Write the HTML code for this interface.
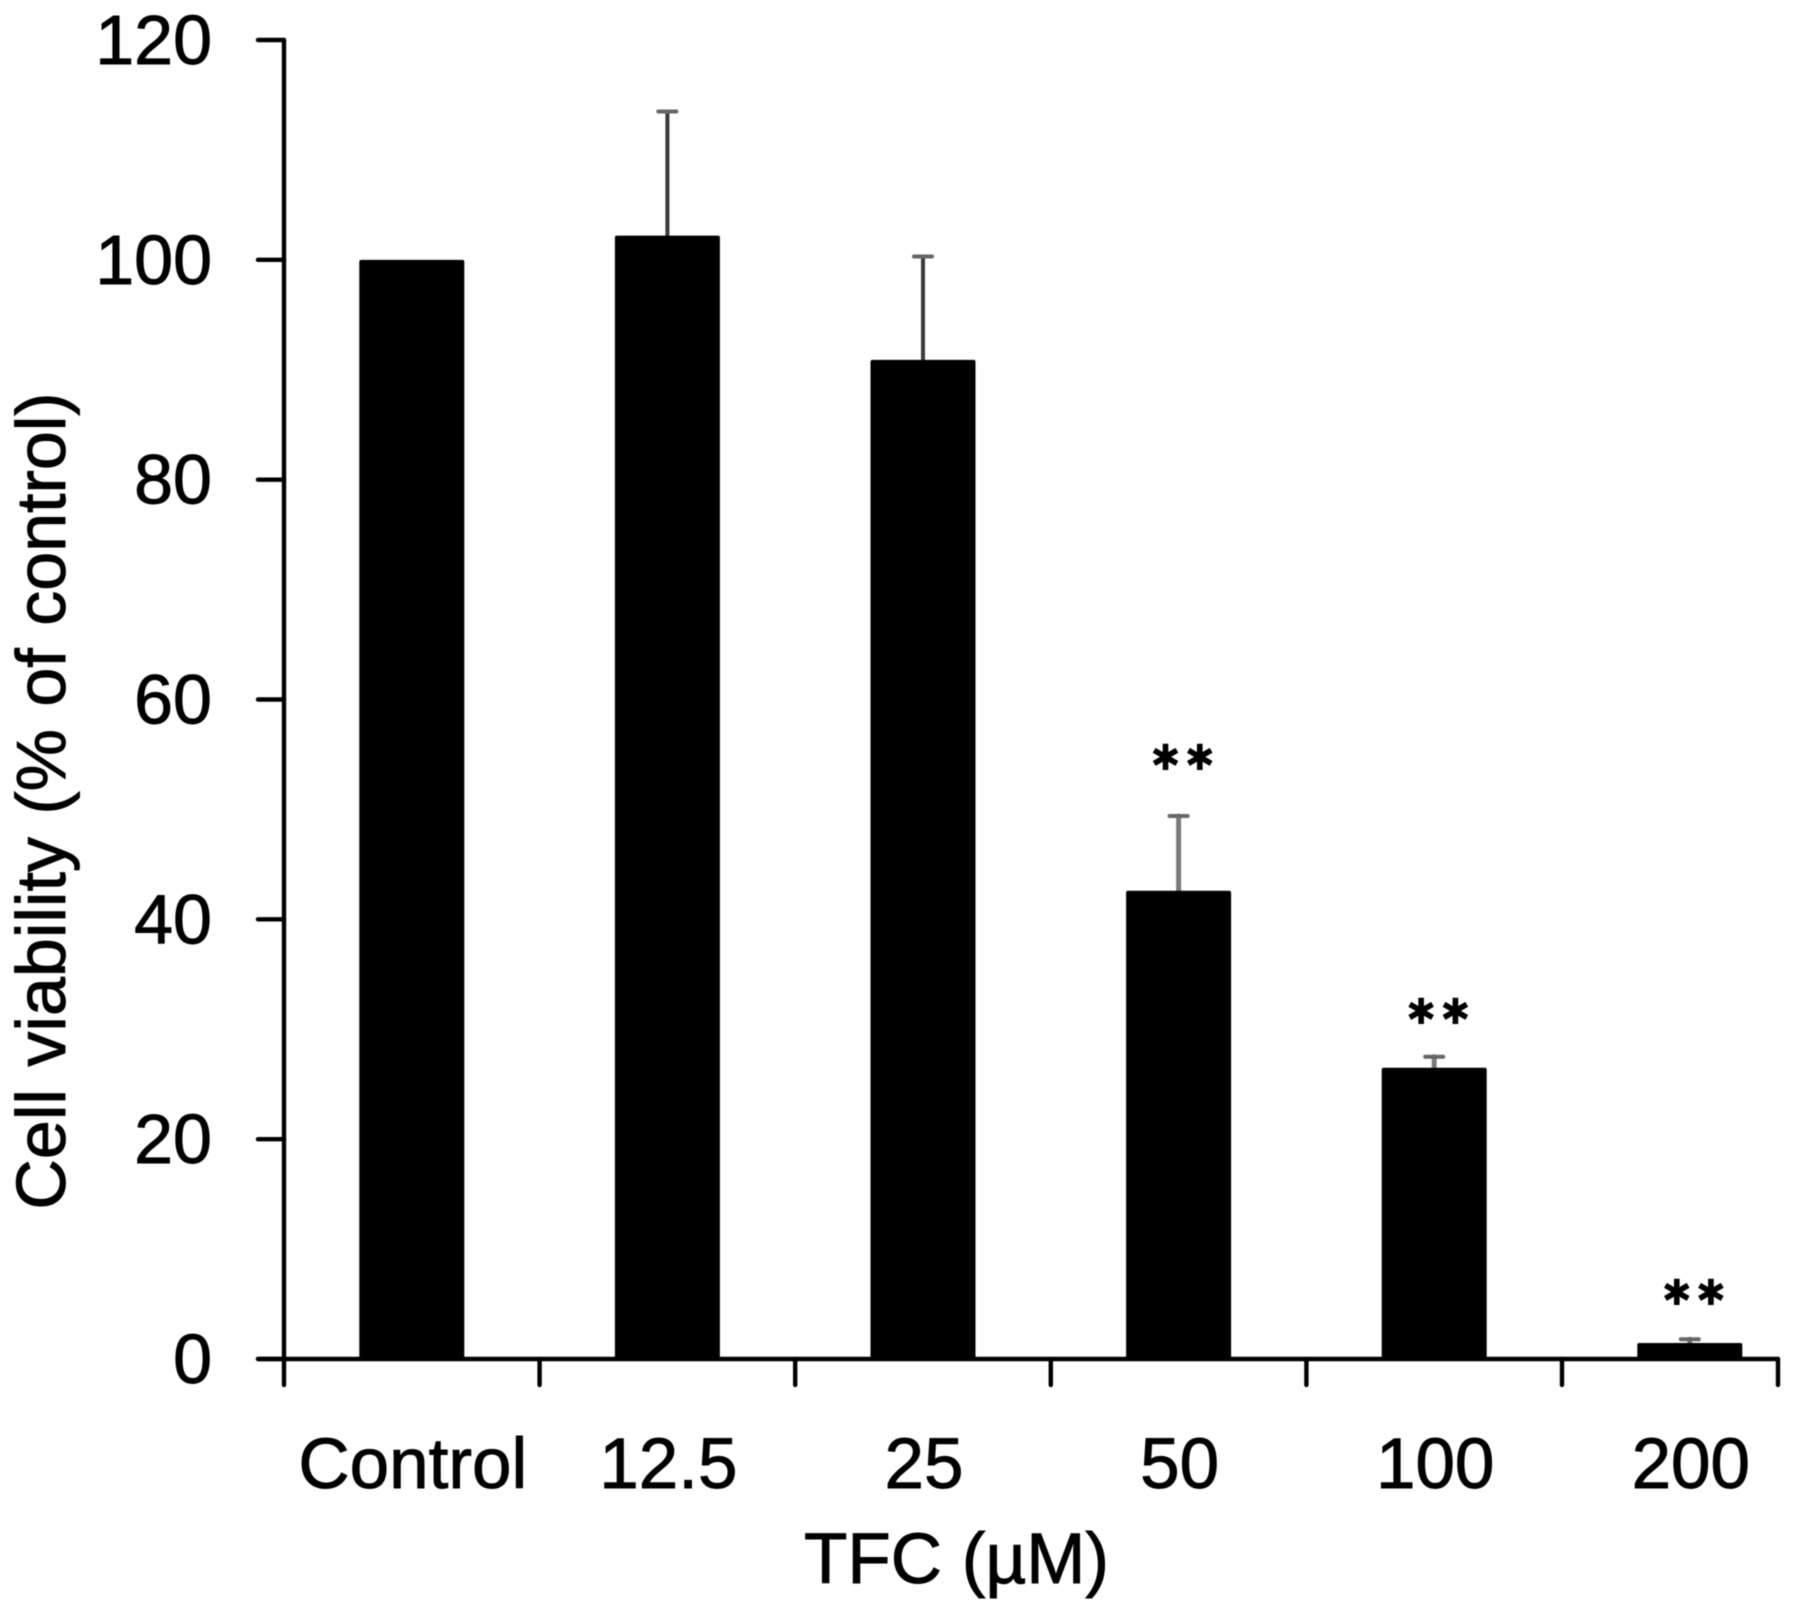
<!DOCTYPE html>
<html lang="en">
<head>
<meta charset="utf-8">
<title>Cell viability vs TFC</title>
<style>
html,body{margin:0;padding:0;background:#fff;}
svg{display:block;filter:blur(0.5px);}
text{font-family:"Liberation Sans",Arial,sans-serif;fill:#000;stroke:#000;stroke-width:0.9px;}
</style>
</head>
<body>
<svg id="chart" xmlns="http://www.w3.org/2000/svg" width="1795" height="1611" viewBox="0 0 1795 1611">
<rect width="1795" height="1611" fill="#fff"/>
<text transform="translate(65,801) rotate(-90)" text-anchor="middle" font-size="70" word-spacing="3">Cell viability (% of control)</text>
<text x="956.5" y="1583" text-anchor="middle" font-size="71">TFC (µM)</text>
</svg>
<script>
const categories = ["Control", "12.5", "25", "50", "100", "200"];
const viability = [100, 102.2, 90.9, 42.6, 26.5, 1.45];
const errors = [0, 11.3, 9.4, 6.8, 1.0, 0.35];
const significance = ["", "", "", "**", "**", "**"];
const significanceLevel = [0, 0, 0, 54.6, 31.5, 5.9];
const yTickValues = [0, 20, 40, 60, 80, 100, 120];

const svg = document.getElementById('chart');
const NS = 'http://www.w3.org/2000/svg';
const plot = { left: 284, right: 1778, bottom: 1359, top: 40, band: 255.6, yMax: 120, barWidth: 105, tick: 26 };
function yScale(v) { return plot.bottom - (v / plot.yMax) * (plot.bottom - plot.top); }
function xBand(i) { return plot.left + plot.band * i; }
function xCenter(i) { return xBand(i) + plot.band / 2; }
function make(tag, attrs, text) {
  const el = document.createElementNS(NS, tag);
  for (const k in attrs) el.setAttribute(k, attrs[k]);
  if (text !== undefined) el.textContent = text;
  svg.appendChild(el);
  return el;
}
function line(x1, y1, x2, y2, stroke, width) {
  return make('line', { x1: x1, y1: y1, x2: x2, y2: y2, stroke: stroke, 'stroke-width': width, 'stroke-linecap': 'round' });
}

categories.forEach(function (c, i) {
  const cx = xCenter(i);
  const topY = yScale(viability[i]);
  if (errors[i] > 0) {
    const errY = yScale(viability[i] + errors[i]);
    const grey = i >= 3;
    const stem = line(cx, topY, cx, errY, grey ? '#7a7a7a' : '#3a3a3a', grey ? 5 : 4);
    
    
    const cap = line(cx - 9, errY, cx + 9, errY, '#666', 4);
    
    
  }
  const bar = make('rect', { x: cx - plot.barWidth / 2, y: topY, width: plot.barWidth, height: plot.bottom - topY, rx: 2, fill: '#000' });
  
  
  const label = make('text', { x: cx + 1, y: 1488, 'text-anchor': 'middle', 'font-size': 71 }, c);
  
  
  if (significance[i]) {
    const stars = make('text', { x: cx + 6, y: yScale(significanceLevel[i]) + 11, 'text-anchor': 'middle', 'font-size': 36, 'letter-spacing': 4, style: 'font-family:"DejaVu Sans",sans-serif;stroke-width:0' }, significance[i].replace(/\*/g, '\u2731'));
    
    
  }
});

const yAxis = line(plot.left, plot.top, plot.left, plot.bottom + plot.tick, '#000', 4.4);


const xAxis = line(plot.left - plot.tick, plot.bottom, plot.right, plot.bottom, '#000', 4.4);



yTickValues.forEach(function (v) {
  const y = yScale(v);
  const t = line(plot.left - plot.tick, y, plot.left, y, '#000', 4.4);
  
  
  const label = make('text', { x: 212, y: y + 24, 'text-anchor': 'end', 'font-size': 70 }, String(v));
  
  
});

categories.forEach(function (c, i) {
  if (i === 0) return;
  const x = xBand(i);
  const t = line(x, plot.bottom, x, plot.bottom + plot.tick, '#000', 4.4);
  
  
});
const endTick = line(plot.right, plot.bottom, plot.right, plot.bottom + plot.tick, '#000', 4.4);


</script>
</body>
</html>
